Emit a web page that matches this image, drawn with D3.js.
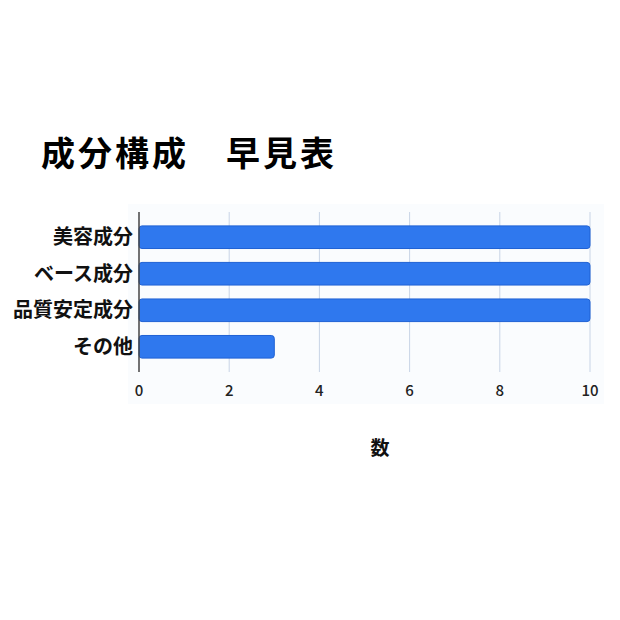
<!DOCTYPE html>
<html>
<head>
<meta charset="utf-8">
<script src="https://cdn.jsdelivr.net/npm/d3@7"></script>
<style>
  body { margin: 0; background: #fff; }
  text { font-family: "Noto Sans CJK JP", "Noto Sans", sans-serif; }
</style>
</head>
<body>
<script>
// data
var categories = ["美容成分", "ベース成分", "品質安定成分", "その他"];
var counts = [10, 10, 10, 3];
var xTicks = [0, 2, 4, 6, 8, 10];

var w = 620, h = 620;

var svg = d3.select("body").append("svg")
    .attr("width", w)
    .attr("height", h);

// scales
var x = d3.scaleLinear().domain([0, 10]).range([139, 590]);
var y = d3.scaleBand().domain(categories).range([212, 372]).padding(0.38);

// faint plot background
svg.append("rect")
    .attr("x", 128).attr("y", 204)
    .attr("width", 476).attr("height", 200)
    .attr("fill", "#fafcfe");

// title
svg.append("text")
    .attr("x", 41).attr("y", 166)
    .attr("font-size", 34)
    .attr("font-weight", "bold")
    .attr("letter-spacing", 3)
    .attr("fill", "#000")
    .text("成分構成　早見表");

// gridlines
svg.selectAll("line.grid")
    .data(xTicks.filter(function(d) { return d > 0; }))
    .enter().append("line")
    .attr("class", "grid")
    .attr("x1", function(d) { return x(d); })
    .attr("x2", function(d) { return x(d); })
    .attr("y1", 212).attr("y2", 372)
    .attr("stroke", "#c8d4e6")
    .attr("stroke-width", 1);

// bars
svg.selectAll("rect.bar")
    .data(counts)
    .enter().append("rect")
    .attr("class", "bar")
    .attr("x", x(0))
    .attr("y", function(d, i) { return y(categories[i]); })
    .attr("width", function(d) { return x(d) - x(0); })
    .attr("height", y.bandwidth())
    .attr("rx", 3)
    .attr("fill", "#2f78ee")
    .attr("stroke", "#1f61d4")
    .attr("stroke-width", 1);

// y axis line
svg.append("line")
    .attr("x1", x(0)).attr("x2", x(0))
    .attr("y1", 212).attr("y2", 372)
    .attr("stroke", "#444")
    .attr("stroke-width", 1.5);

// category labels
svg.selectAll("text.cat")
    .data(categories)
    .enter().append("text")
    .attr("class", "cat")
    .attr("x", 133)
    .attr("y", function(d) { return y(d) + y.bandwidth() / 2; })
    .attr("dy", "0.36em")
    .attr("text-anchor", "end")
    .attr("font-size", 20)
    .attr("font-weight", "bold")
    .attr("fill", "#111")
    .text(function(d) { return d; });

// x tick labels
svg.selectAll("text.tick")
    .data(xTicks)
    .enter().append("text")
    .attr("class", "tick")
    .attr("x", function(d) { return x(d); })
    .attr("y", 396)
    .attr("text-anchor", "middle")
    .attr("font-size", 15)
    .attr("font-weight", 500)
    .attr("fill", "#222")
    .text(function(d) { return d; });

// axis title
svg.append("text")
    .attr("x", 380).attr("y", 455)
    .attr("text-anchor", "middle")
    .attr("font-size", 19)
    .attr("font-weight", "bold")
    .attr("fill", "#111")
    .text("数");
</script>
</body>
</html>
